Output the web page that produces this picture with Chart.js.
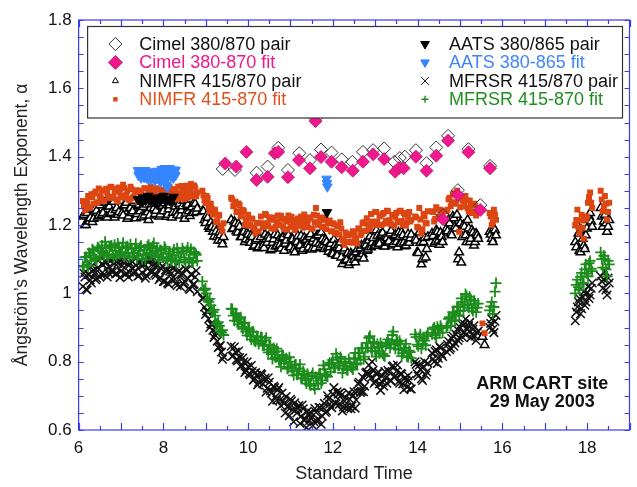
<!DOCTYPE html>
<html><head><meta charset="utf-8">
<script src="https://cdn.jsdelivr.net/npm/chart.js@4.4.1/dist/chart.umd.min.js"></script>
<style>html,body{margin:0;padding:0;background:#fff;}#wrap{width:637px;height:487px;}</style>
</head><body><div id="wrap"><canvas id="c" width="637" height="487"></canvas></div>
<script>
// ---------------- DATA ----------------
const xTickValues = [6, 8, 10, 12, 14, 16, 18];
const xTickLabels = ['6', '8', '10', '12', '14', '16', '18'];
const yTickValues = [0.6, 0.8, 1.0, 1.2, 1.4, 1.6, 1.8];
const yTickLabels = ['0.6', '0.8', '1', '1.2', '1.4', '1.6', '1.8'];

// Cimel (sparse, explicit times)
const cimelPairT = [9.40,9.69,10.20,10.46,10.71,10.94,11.21,11.46,11.59,11.72,11.97,12.21,12.46,12.71,12.95,13.21,13.45,13.58,13.70,13.96,14.21,14.44,14.60,14.72,14.95,15.20,15.48,15.71];
const cimelPairV = [1.364,1.361,1.353,1.371,1.426,1.361,1.410,1.390,1.512,1.421,1.412,1.392,1.385,1.414,1.419,1.424,1.385,1.396,1.400,1.419,1.381,1.427,1.229,1.461,1.302,1.422,1.258,1.373];
const cimelFitT = [9.46,9.72,9.96,10.20,10.46,10.63,10.71,10.94,11.20,11.46,11.59,11.72,11.97,12.21,12.47,12.71,12.95,13.21,13.47,13.56,13.67,13.96,14.21,14.44,14.60,14.72,14.95,15.20,15.48,15.71];
const cimelFitV = [1.380,1.371,1.414,1.332,1.341,1.410,1.414,1.340,1.390,1.366,1.504,1.399,1.385,1.369,1.359,1.385,1.407,1.393,1.356,1.367,1.366,1.400,1.359,1.403,1.217,1.447,1.288,1.413,1.244,1.366];

// AATS
const aatsPairT = [7.40,7.46,7.52,7.58,7.64,7.70,7.76,7.82,7.88,7.94,8.00,8.06,8.12,8.18,8.24,11.86];
const aatsPairV = [1.275,1.268,1.280,1.272,1.285,1.270,1.278,1.265,1.280,1.272,1.285,1.268,1.276,1.270,1.282,1.237];
const aatsFitT = [7.40,7.415,7.43,7.445,7.46,7.475,7.50,7.515,7.53,7.545,7.56,7.575,7.60,7.615,7.63,7.645,7.66,7.675,7.70,7.715,7.73,7.745,7.76,7.775,7.80,7.815,7.83,7.845,7.86,7.875,7.90,7.915,7.93,7.945,7.96,7.975,8.00,8.015,8.03,8.045,8.06,8.075,8.09,8.105,8.12,8.135,8.15,8.165,8.18,8.20,8.22,8.235,8.25,8.265,8.285,8.29,11.85,11.86,11.87];
const aatsFitV = [1.360,1.345,1.348,1.358,1.356,1.338,1.343,1.352,1.358,1.340,1.350,1.360,1.338,1.348,1.356,1.335,1.346,1.355,1.334,1.344,1.353,1.338,1.341,1.356,1.330,1.345,1.348,1.336,1.358,1.344,1.338,1.355,1.326,1.342,1.363,1.350,1.348,1.338,1.366,1.352,1.333,1.318,1.310,1.340,1.353,1.362,1.366,1.350,1.343,1.356,1.358,1.338,1.348,1.362,1.345,1.360,1.335,1.322,1.312];

// Dense radiometer series: two interleaved sample sets, each sampled every SAMPLE_STEP hours in segments
const SAMPLE_STEP = 0.05;
const nimfrSegStart  = [6.10, 8.92, 9.60, 10.30, 13.94, 14.34, 14.68, 15.53, 15.70, 17.72, 18.32];
const nimfrSegStartB = [6.125, 8.945, 9.625, 10.325, 13.965, 14.365, 14.705, 15.555, 15.725, 17.745, 18.345];
const nimfrFit = [
 [1.270,1.243,1.268,1.250,1.290,1.262,1.298,1.265,1.285,1.302,1.270,1.306,1.283,1.312,1.278,1.298,1.275,1.310,1.285,1.318,1.280,1.300,1.272,1.305,1.282,1.296,1.268,1.300,1.285,1.308,1.275,1.298,1.312,1.280,1.296,1.270,1.304,1.283,1.300,1.272,1.295,1.310,1.278,1.303,1.285,1.312,1.280,1.300,1.275,1.315,1.290,1.320,1.283,1.310,1.295],
 [1.300,1.272,1.285,1.250,1.262,1.230,1.245,1.212,1.228,1.195,1.205],
 [1.280,1.255,1.268,1.240,1.258,1.225,1.240,1.212,1.230,1.200,1.218,1.190,1.205,1.182],
 [1.225,1.198,1.232,1.205,1.222,1.190,1.215,1.195,1.228,1.200,1.218,1.188,1.210,1.228,1.195,1.215,1.185,1.212,1.198,1.225,1.192,1.215,1.200,1.222,1.190,1.230,1.250,1.205,1.222,1.195,1.215,1.188,1.210,1.182,1.205,1.178,1.198,1.172,1.190,1.160,1.178,1.150,1.172,1.148,1.175,1.158,1.190,1.170,1.205,1.182,1.220,1.195,1.232,1.205,1.238,1.210,1.228,1.200,1.235,1.212,1.240,1.205,1.228,1.198,1.236,1.210,1.242,1.200,1.230,1.208,1.238,1.215],
 [1.225,1.195,1.250,1.175,1.232,1.205,1.240],
 [1.240,1.210,1.252,1.222,1.245,1.215],
 [1.240,1.275,1.255,1.290,1.262,1.300,1.180,1.280,1.255,1.285,1.250,1.272,1.235,1.262,1.228,1.250],
 [0.912,0.883],
 [1.235,1.200,1.245,1.215],
 [1.200,1.245,1.175,1.230,1.160,1.215,1.265,1.295,1.250],
 [1.300,1.240,1.285,1.215,1.265]
];
const nimfrFitB = [
 [1.258,1.248,1.285,1.252,1.282,1.292,1.267,1.307,1.281,1.271,1.300,1.294,1.279,1.311,1.283,1.306,1.269,1.296,1.281,1.308,1.288,1.276,1.312,1.280,1.296,1.302,1.269,1.290,1.281,1.307,1.279,1.301,1.271,1.296,1.308,1.283,1.275,1.303,1.293,1.287,1.315,1.278,1.299,1.305,1.276,1.294,1.314,1.286,1.301,1.280,1.308,1.292,1.316,1.284],
 [1.287,1.264,1.279,1.239,1.248,1.242,1.209,1.230,1.198,1.181],
 [1.275,1.261,1.238,1.263,1.228,1.244,1.200,1.220,1.198,1.219,1.193,1.175,1.206],
 [1.205,1.193,1.229,1.197,1.216,1.222,1.189,1.210,1.201,1.227,1.195,1.217,1.187,1.212,1.224,1.199,1.191,1.219,1.209,1.203,1.231,1.194,1.215,1.221,1.190,1.208,1.228,1.200,1.215,1.194,1.222,1.206,1.213,1.181,1.202,1.175,1.196,1.208,1.155,1.142,1.174,1.169,1.150,1.182,1.162,1.146,1.189,1.174,1.208,1.183,1.202,1.189,1.210,1.201,1.238,1.200,1.226,1.232,1.204,1.242,1.214,1.202,1.230,1.223,1.208,1.240,1.212,1.235,1.198,1.225,1.210],
 [1.222,1.192,1.216,1.188,1.225,1.205],
 [1.238,1.218,1.245,1.224,1.240],
 [1.245,1.280,1.267,1.293,1.266,1.285,1.252,1.273,1.256,1.272,1.240,1.256,1.239,1.257,1.238],
 [],
 [1.225,1.208,1.230],
 [1.215,1.193,1.213,1.192,1.220,1.225,1.282,1.265],
 [1.275,1.255,1.262,1.238]
];
const nimfrPair = [
 [1.225,1.200,1.235,1.210,1.245,1.218,1.250,1.222,1.258,1.230,1.265,1.225,1.255,1.232,1.268,1.222,1.250,1.238,1.270,1.228,1.258,1.218,1.248,1.235,1.265,1.220,1.255,1.240,1.272,1.228,1.260,1.215,1.250,1.270,1.232,1.262,1.225,1.255,1.240,1.272,1.230,1.258,1.222,1.265,1.238,1.268,1.228,1.255,1.218,1.262,1.240,1.275,1.235,1.262,1.248],
 [1.240,1.215,1.228,1.195,1.208,1.180,1.192,1.165,1.178,1.155,1.165],
 [1.215,1.190,1.205,1.178,1.195,1.165,1.180,1.158,1.172,1.148,1.165,1.140,1.158,1.135],
 [1.165,1.140,1.172,1.148,1.160,1.130,1.158,1.138,1.170,1.142,1.162,1.125,1.155,1.170,1.135,1.158,1.120,1.150,1.138,1.168,1.130,1.155,1.142,1.165,1.128,1.160,1.148,1.170,1.135,1.158,1.130,1.150,1.122,1.145,1.115,1.140,1.110,1.132,1.105,1.125,1.095,1.118,1.090,1.112,1.098,1.120,1.105,1.132,1.115,1.145,1.125,1.155,1.135,1.162,1.140,1.168,1.145,1.172,1.138,1.165,1.148,1.175,1.140,1.168,1.150,1.178,1.145,1.170,1.138,1.165,1.148,1.172],
 [1.160,1.120,1.178,1.085,1.150,1.105,1.165],
 [1.175,1.145,1.185,1.155,1.178,1.150],
 [1.190,1.215,1.175,1.225,1.195,1.230,1.120,1.090,1.200,1.170,1.215,1.150,1.185,1.140,1.175,1.160],
 [0.873,0.849],
 [1.180,1.160,1.190,1.170],
 [1.150,1.200,1.125,1.185,1.140,1.170,1.215,1.235,1.195],
 [1.250,1.195,1.230,1.180,1.215]
];
const nimfrPairB = [
 [1.229,1.200,1.249,1.220,1.209,1.247,1.242,1.227,1.267,1.235,1.266,1.222,1.254,1.236,1.268,1.244,1.230,1.273,1.235,1.258,1.265,1.225,1.250,1.240,1.271,1.232,1.259,1.223,1.253,1.267,1.237,1.228,1.261,1.249,1.242,1.276,1.231,1.256,1.264,1.224,1.246,1.270,1.236,1.254,1.229,1.262,1.243,1.272,1.234,1.259,1.226,1.252,1.266,1.238],
 [1.240,1.206,1.221,1.189,1.194,1.166,1.181,1.155,1.170,1.144],
 [1.188,1.210,1.182,1.203,1.165,1.181,1.150,1.177,1.156,1.171,1.136,1.154,1.132],
 [1.178,1.133,1.158,1.166,1.126,1.148,1.172,1.138,1.156,1.131,1.164,1.145,1.174,1.136,1.161,1.128,1.154,1.168,1.140,1.125,1.163,1.157,1.134,1.173,1.151,1.132,1.169,1.145,1.178,1.141,1.157,1.134,1.135,1.118,1.157,1.111,1.142,1.149,1.086,1.131,1.098,1.083,1.117,1.109,1.091,1.129,1.107,1.140,1.102,1.140,1.128,1.166,1.148,1.139,1.185,1.147,1.170,1.177,1.137,1.162,1.152,1.183,1.144,1.171,1.135,1.165,1.179,1.149,1.140,1.173,1.161],
 [1.155,1.118,1.148,1.100,1.162,1.130],
 [1.168,1.150,1.180,1.142,1.165],
 [1.182,1.205,1.170,1.220,1.190,1.100,1.205,1.165,1.195,1.150,1.190,1.160,1.178,1.150,1.170],
 [],
 [1.172,1.150,1.185],
 [1.135,1.175,1.120,1.160,1.130,1.190,1.225,1.210],
 [1.225,1.210,1.205,1.195]
];
const mfrsrSegStart  = [6.10, 8.92, 9.60, 10.30, 13.94, 14.34, 14.68, 15.70, 17.72, 18.32];
const mfrsrSegStartB = [6.125, 8.945, 9.625, 10.325, 13.965, 14.365, 14.705, 15.725, 17.745, 18.345];
const mfrsrFit = [
 [1.080,1.105,1.085,1.118,1.095,1.125,1.100,1.135,1.108,1.140,1.112,1.132,1.105,1.138,1.115,1.142,1.110,1.135,1.120,1.148,1.112,1.138,1.105,1.130,1.118,1.145,1.110,1.135,1.100,1.128,1.112,1.142,1.118,1.138,1.110,1.132,1.098,1.125,1.105,1.130,1.095,1.122,1.100,1.128,1.092,1.120,1.105,1.132,1.098,1.125,1.100,1.130,1.092,1.118,1.095],
 [1.035,1.010,1.000,0.975,0.965,0.945,0.935,0.912,0.905,0.885,0.878],
 [0.955,0.935,0.942,0.918,0.925,0.902,0.912,0.888,0.898,0.875,0.888,0.862,0.875,0.852],
 [0.872,0.848,0.862,0.835,0.850,0.822,0.840,0.812,0.830,0.802,0.820,0.795,0.810,0.782,0.800,0.772,0.790,0.762,0.780,0.752,0.772,0.745,0.765,0.735,0.758,0.730,0.755,0.735,0.765,0.745,0.778,0.758,0.792,0.770,0.805,0.782,0.812,0.788,0.808,0.780,0.800,0.775,0.798,0.782,0.810,0.792,0.825,0.805,0.840,0.815,0.855,0.870,0.840,0.858,0.830,0.852,0.825,0.845,0.818,0.848,0.865,0.840,0.878,0.850,0.862,0.835,0.852,0.825,0.840,0.815,0.832,0.810],
 [0.880,0.850,0.872,0.838,0.868,0.848,0.885],
 [0.880,0.900,0.870,0.895,0.905,0.885],
 [0.900,0.925,0.905,0.945,0.920,0.960,0.935,0.985,0.950,0.998,0.965,0.990,0.955,0.978,0.945,0.970],
 [0.950,0.975,0.960,1.030],
 [1.000,1.040,1.010,1.060,1.030,1.085,1.050,1.095,1.065],
 [1.120,1.075,1.100,1.050,1.085]
];
const mfrsrFitB = [
 [1.078,1.107,1.079,1.111,1.129,1.105,1.099,1.132,1.123,1.118,1.151,1.111,1.134,1.140,1.104,1.124,1.146,1.115,1.132,1.108,1.135,1.118,1.144,1.109,1.132,1.102,1.125,1.139,1.113,1.099,1.138,1.133,1.112,1.147,1.125,1.107,1.127,1.105,1.136,1.102,1.116,1.095,1.112,1.097,1.132,1.090,1.117,1.123,1.092,1.134,1.103,1.090,1.121,1.113],
 [1.010,1.014,0.980,0.984,0.945,0.952,0.909,0.916,0.889,0.892],
 [0.954,0.920,0.938,0.909,0.930,0.897,0.914,0.877,0.894,0.865,0.887,0.858,0.872],
 [0.871,0.847,0.870,0.827,0.846,0.808,0.829,0.838,0.805,0.785,0.818,0.807,0.779,0.813,0.784,0.760,0.792,0.763,0.792,0.751,0.763,0.736,0.750,0.730,0.767,0.720,0.753,0.764,0.737,0.789,0.763,0.756,0.797,0.796,0.782,0.823,0.789,0.814,0.767,0.796,0.776,0.808,0.786,0.777,0.826,0.795,0.825,0.839,0.807,0.840,0.840,0.875,0.832,0.855,0.815,0.843,0.855,0.823,0.816,0.856,0.853,0.852,0.888,0.838,0.858,0.861,0.816,0.833,0.852,0.814,0.828],
 [0.872,0.845,0.880,0.852,0.862,0.875],
 [0.895,0.878,0.902,0.885,0.898],
 [0.905,0.930,0.918,0.940,0.935,0.962,0.948,0.975,0.968,0.992,0.958,0.982,0.948,0.970,0.958],
 [0.962,0.940,1.005],
 [1.025,1.018,1.048,1.030,1.070,1.058,1.088,1.072],
 [1.100,1.110,1.070,1.095]
];
const mfrsrPair = [
 [1.020,1.048,1.010,1.055,1.030,1.068,1.040,1.075,1.048,1.085,1.055,1.090,1.060,1.095,1.062,1.088,1.058,1.098,1.065,1.092,1.055,1.085,1.062,1.095,1.058,1.082,1.050,1.090,1.060,1.085,1.052,1.092,1.065,1.098,1.058,1.080,1.040,1.072,1.035,1.068,1.030,1.065,1.042,1.075,1.030,1.062,1.020,1.058,1.035,1.068,1.015,1.055,1.025,1.048,1.005],
 [0.985,0.960,0.948,0.925,0.910,0.892,0.878,0.860,0.845,0.828,0.815],
 [0.845,0.818,0.828,0.802,0.812,0.790,0.800,0.775,0.785,0.762,0.772,0.750,0.760,0.740],
 [0.765,0.735,0.752,0.722,0.740,0.708,0.728,0.698,0.718,0.688,0.708,0.678,0.698,0.668,0.690,0.660,0.680,0.650,0.672,0.640,0.662,0.632,0.655,0.628,0.650,0.625,0.652,0.632,0.665,0.640,0.678,0.655,0.690,0.668,0.705,0.680,0.712,0.675,0.702,0.668,0.695,0.662,0.690,0.670,0.712,0.688,0.735,0.710,0.755,0.728,0.770,0.790,0.752,0.775,0.742,0.765,0.735,0.758,0.728,0.752,0.775,0.745,0.785,0.755,0.772,0.742,0.765,0.735,0.752,0.725,0.745,0.720],
 [0.800,0.765,0.790,0.750,0.785,0.760,0.795],
 [0.825,0.800,0.835,0.810,0.840,0.815],
 [0.830,0.860,0.840,0.875,0.855,0.895,0.870,0.910,0.885,0.925,0.895,0.915,0.880,0.905,0.862,0.890],
 [0.900,0.925,0.885,0.935],
 [0.920,0.960,0.985,0.955,1.005,0.975,1.020,0.995,1.030],
 [1.050,1.015,1.065,0.995,1.030]
];
const mfrsrPairB = [
 [1.059,1.012,1.055,1.039,1.081,1.057,1.044,1.097,1.056,1.084,1.095,1.048,1.078,1.065,1.102,1.057,1.088,1.046,1.081,1.097,1.059,1.048,1.087,1.073,1.065,1.104,1.052,1.082,1.090,1.044,1.072,1.100,1.061,1.082,1.053,1.092,1.046,1.080,1.035,1.065,1.027,1.056,1.073,1.041,1.023,1.067,1.053,1.027,1.072,1.044,1.011,1.055,1.027,1.066],
 [0.986,0.938,0.949,0.900,0.911,0.871,0.885,0.841,0.847,0.807],
 [0.816,0.843,0.806,0.831,0.786,0.811,0.768,0.799,0.766,0.789,0.746,0.768,0.732],
 [0.762,0.747,0.711,0.753,0.715,0.684,0.724,0.688,0.724,0.671,0.685,0.650,0.668,0.642,0.685,0.624,0.659,0.664,0.619,0.673,0.628,0.607,0.647,0.636,0.613,0.663,0.625,0.666,0.617,0.666,0.651,0.700,0.676,0.665,0.724,0.677,0.705,0.710,0.656,0.684,0.668,0.708,0.662,0.702,0.664,0.712,0.740,0.713,0.712,0.767,0.765,0.762,0.800,0.737,0.764,0.770,0.716,0.739,0.771,0.737,0.770,0.744,0.788,0.759,0.790,0.737,0.764,0.718,0.745,0.759,0.721],
 [0.792,0.758,0.778,0.745,0.800,0.770],
 [0.808,0.830,0.795,0.845,0.822],
 [0.850,0.835,0.868,0.845,0.880,0.862,0.900,0.872,0.910,0.880,0.905,0.870,0.895,0.875,0.885],
 [0.912,0.895,0.918],
 [0.945,0.975,0.940,0.990,0.965,1.000,0.985,1.015],
 [1.035,1.040,1.010,1.045]
];

const legendLabels = ['Cimel 380/870 pair','Cimel 380-870 fit','NIMFR 415/870 pair','NIMFR 415-870 fit',
                      'AATS 380/865 pair','AATS 380-865 fit','MFRSR 415/870 pair','MFRSR 415-870 fit'];
const siteText = ['ARM CART site', '29 May 2003'];
const siteTextX = 16.94;
const siteTextY = [0.735, 0.683];

// ---------------- STYLE ----------------
const FONT = "'Liberation Sans', Arial, Helvetica, sans-serif";
const AXIS_COLOR = '#3a3af0';
const PINK = '#f0188c', ORANGE = '#dc4612', BLUE = '#3585ff', GREEN = '#1c8c1c';

function pairs(ts, vs){ return ts.map((t,i)=>({x:t, y:vs[i]})); }
function segPoints(starts, segs){
  const out = [];
  segs.forEach((vals, i) => vals.forEach((v, j) => out.push({x: +(starts[i] + j*SAMPLE_STEP).toFixed(3), y: v})));
  return out;
}
function both(sA, dA, sB, dB){
  const a = segPoints(sA, dA), b = segPoints(sB, dB);
  return a.concat(b).sort((p, q) => p.x - q.x);
}

const datasets = [
  {label:legendLabels[5], data:pairs(aatsFitT, aatsFitV), pointStyle:'triangle', rotation:180, radius:5.5, backgroundColor:BLUE, borderColor:BLUE, borderWidth:1, order:1},
  {label:legendLabels[4], data:pairs(aatsPairT, aatsPairV), pointStyle:'triangle', rotation:180, radius:5.5, backgroundColor:'#000', borderColor:'#000', borderWidth:1, order:2},
  {label:legendLabels[1], data:pairs(cimelFitT, cimelFitV), pointStyle:'rectRot', radius:6.5, backgroundColor:PINK, borderColor:'#b8106a', borderWidth:0.8, order:3},
  {label:legendLabels[0], data:pairs(cimelPairT, cimelPairV), pointStyle:'rectRot', radius:6.5, backgroundColor:'rgba(255,255,255,0)', borderColor:'#333', borderWidth:1, order:4},
  {label:legendLabels[3], data:both(nimfrSegStart, nimfrFit, nimfrSegStartB, nimfrFitB), pointStyle:'rect', radius:4.2, backgroundColor:ORANGE, borderColor:ORANGE, borderWidth:0, order:5},
  {label:legendLabels[2], data:both(nimfrSegStart, nimfrPair, nimfrSegStartB, nimfrPairB), pointStyle:'triangle', radius:5, backgroundColor:'#fff', borderColor:'#000', borderWidth:1.5, order:6},
  {label:legendLabels[7], data:both(mfrsrSegStart, mfrsrFit, mfrsrSegStartB, mfrsrFitB), pointStyle:'cross', radius:5.5, backgroundColor:GREEN, borderColor:GREEN, borderWidth:1.8, order:7},
  {label:legendLabels[6], data:both(mfrsrSegStart, mfrsrPair, mfrsrSegStartB, mfrsrPairB), pointStyle:'crossRot', radius:6, backgroundColor:'#111', borderColor:'#111', borderWidth:1.5, order:8}
].map(d => Object.assign({showLine:false, pointRadius:d.radius, pointHoverRadius:d.radius}, d));

// ---------------- PLUGINS ----------------
function glyph(ctx, style, x, y, r, fill, stroke, lw){
  ctx.beginPath();
  if(style==='diamond'){ctx.moveTo(x-r,y);ctx.lineTo(x,y-r);ctx.lineTo(x+r,y);ctx.lineTo(x,y+r);ctx.closePath();}
  else if(style==='triUp'){ctx.moveTo(x,y-r);ctx.lineTo(x+r*0.866,y+r/2);ctx.lineTo(x-r*0.866,y+r/2);ctx.closePath();}
  else if(style==='triDown'){ctx.moveTo(x,y+r);ctx.lineTo(x+r*0.866,y-r/2);ctx.lineTo(x-r*0.866,y-r/2);ctx.closePath();}
  else if(style==='square'){ctx.rect(x-r,y-r,2*r,2*r);}
  else if(style==='x'){ctx.moveTo(x-r,y-r);ctx.lineTo(x+r,y+r);ctx.moveTo(x+r,y-r);ctx.lineTo(x-r,y+r);}
  else if(style==='plus'){ctx.moveTo(x-r,y);ctx.lineTo(x+r,y);ctx.moveTo(x,y-r);ctx.lineTo(x,y+r);}
  if(fill && style!=='x' && style!=='plus'){ctx.fillStyle=fill;ctx.fill();}
  if(stroke){ctx.strokeStyle=stroke;ctx.lineWidth=lw;ctx.stroke();}
}

const framePlugin = {
  id:'frame',
  afterDatasetsDraw(chart){
    const {ctx, chartArea:a, scales:{x, y}} = chart;
    ctx.save();
    ctx.strokeStyle = AXIS_COLOR; ctx.lineWidth = 1.2;
    ctx.strokeRect(a.left, a.top, a.right - a.left, a.bottom - a.top);
    ctx.beginPath();
    for(let i = 0; i <= 26; i++){
      const v = 6 + i*0.5; if(v > 19) break;
      const px = Math.round(x.getPixelForValue(v)) + 0.5;
      const len = (i % 2 === 0) ? 7 : 4;
      ctx.moveTo(px, a.bottom); ctx.lineTo(px, a.bottom - len);
      ctx.moveTo(px, a.top); ctx.lineTo(px, a.top + len);
    }
    for(let i = 0; i <= 24; i++){
      const v = 0.6 + i*0.05;
      const py = Math.round(y.getPixelForValue(v)) + 0.5;
      ctx.moveTo(a.left, py); ctx.lineTo(a.left + 5, py);
      ctx.moveTo(a.right, py); ctx.lineTo(a.right - 5, py);
    }
    ctx.stroke();

    // legend
    const L = a.left + 9, T = a.top + 6.5, R = a.right - 7, B = a.top + 98;
    ctx.fillStyle = '#fff'; ctx.fillRect(L, T, R - L, B - T);
    ctx.strokeStyle = '#333'; ctx.lineWidth = 1.2; ctx.strokeRect(L, T, R - L, B - T);
    const rowY = [24, 42.4, 60.9, 79.3].map(v => a.top + v);
    const symX = [a.left + 36.8, a.left + 346.4];
    const txtX = [a.left + 60.7, a.left + 370.4];
    const sym = [
      ['diamond', 6.5, null, '#333', 1], ['diamond', 7, PINK, '#b8106a', 0.8], ['triUp', 3.5, '#fff', '#000', 1], ['square', 2.2, ORANGE, null, 0],
      ['triDown', 5, '#000', '#000', 1], ['triDown', 5, BLUE, BLUE, 1], ['x', 4, null, '#111', 1], ['plus', 3.5, null, GREEN, 1.4]
    ];
    const txtColors = ['#111', PINK, '#111', '#e0501c', '#111', '#3f84ff', '#111', '#1f8f1f'];
    ctx.font = '18px ' + FONT; ctx.textBaseline = 'middle'; ctx.textAlign = 'left';
    for(let i = 0; i < 8; i++){
      const col = i < 4 ? 0 : 1, row = i % 4;
      const s = sym[i];
      glyph(ctx, s[0], symX[col], rowY[row], s[1], s[2], s[3], s[4]);
      ctx.fillStyle = txtColors[i];
      ctx.fillText(legendLabels[i], txtX[col], rowY[row] + 1);
    }

    // site annotation
    ctx.font = 'bold 18px ' + FONT; ctx.fillStyle = '#111'; ctx.textAlign = 'center';
    siteText.forEach((t, i) => ctx.fillText(t, x.getPixelForValue(siteTextX), y.getPixelForValue(siteTextY[i])));
    ctx.restore();
  }
};

// ---------------- CHART ----------------
new Chart(document.getElementById('c'), {
  type:'scatter',
  data:{datasets},
  options:{
    responsive:false, animation:false, devicePixelRatio:1,
    layout:{padding:{left:0, right:2, top:20, bottom:0}},
    plugins:{legend:{display:false}, tooltip:{enabled:false}},
    scales:{
      x:{type:'linear', min:6, max:19,
         grid:{display:false, drawTicks:false, tickLength:0}, border:{display:false},
         afterBuildTicks: s => { s.ticks = xTickValues.map(v => ({value:v})); },
         ticks:{callback:(v, i) => xTickLabels[i], font:{size:17, family:FONT}, color:'#111', padding:8, maxRotation:0, autoSkip:false},
         title:{display:true, text:'Standard Time', font:{size:18, family:FONT}, color:'#222', padding:{top:0, bottom:2}},
         afterFit: s => { s.height = 57; }
      },
      y:{type:'linear', min:0.6, max:1.8,
         grid:{display:false, drawTicks:false, tickLength:0}, border:{display:false},
         afterBuildTicks: s => { s.ticks = yTickValues.map(v => ({value:v})); },
         ticks:{callback:(v, i) => yTickLabels[i], font:{size:17, family:FONT}, color:'#111', padding:7, autoSkip:false},
         title:{display:true, text:'Ångström\u2019s Wavelength Exponent, \u03b1', font:{size:17.5, family:FONT}, color:'#222', padding:{top:12, bottom:0}},
         afterFit: s => { s.width = 78.6; }
      }
    }
  },
  plugins:[framePlugin]
});
</script></body></html>
